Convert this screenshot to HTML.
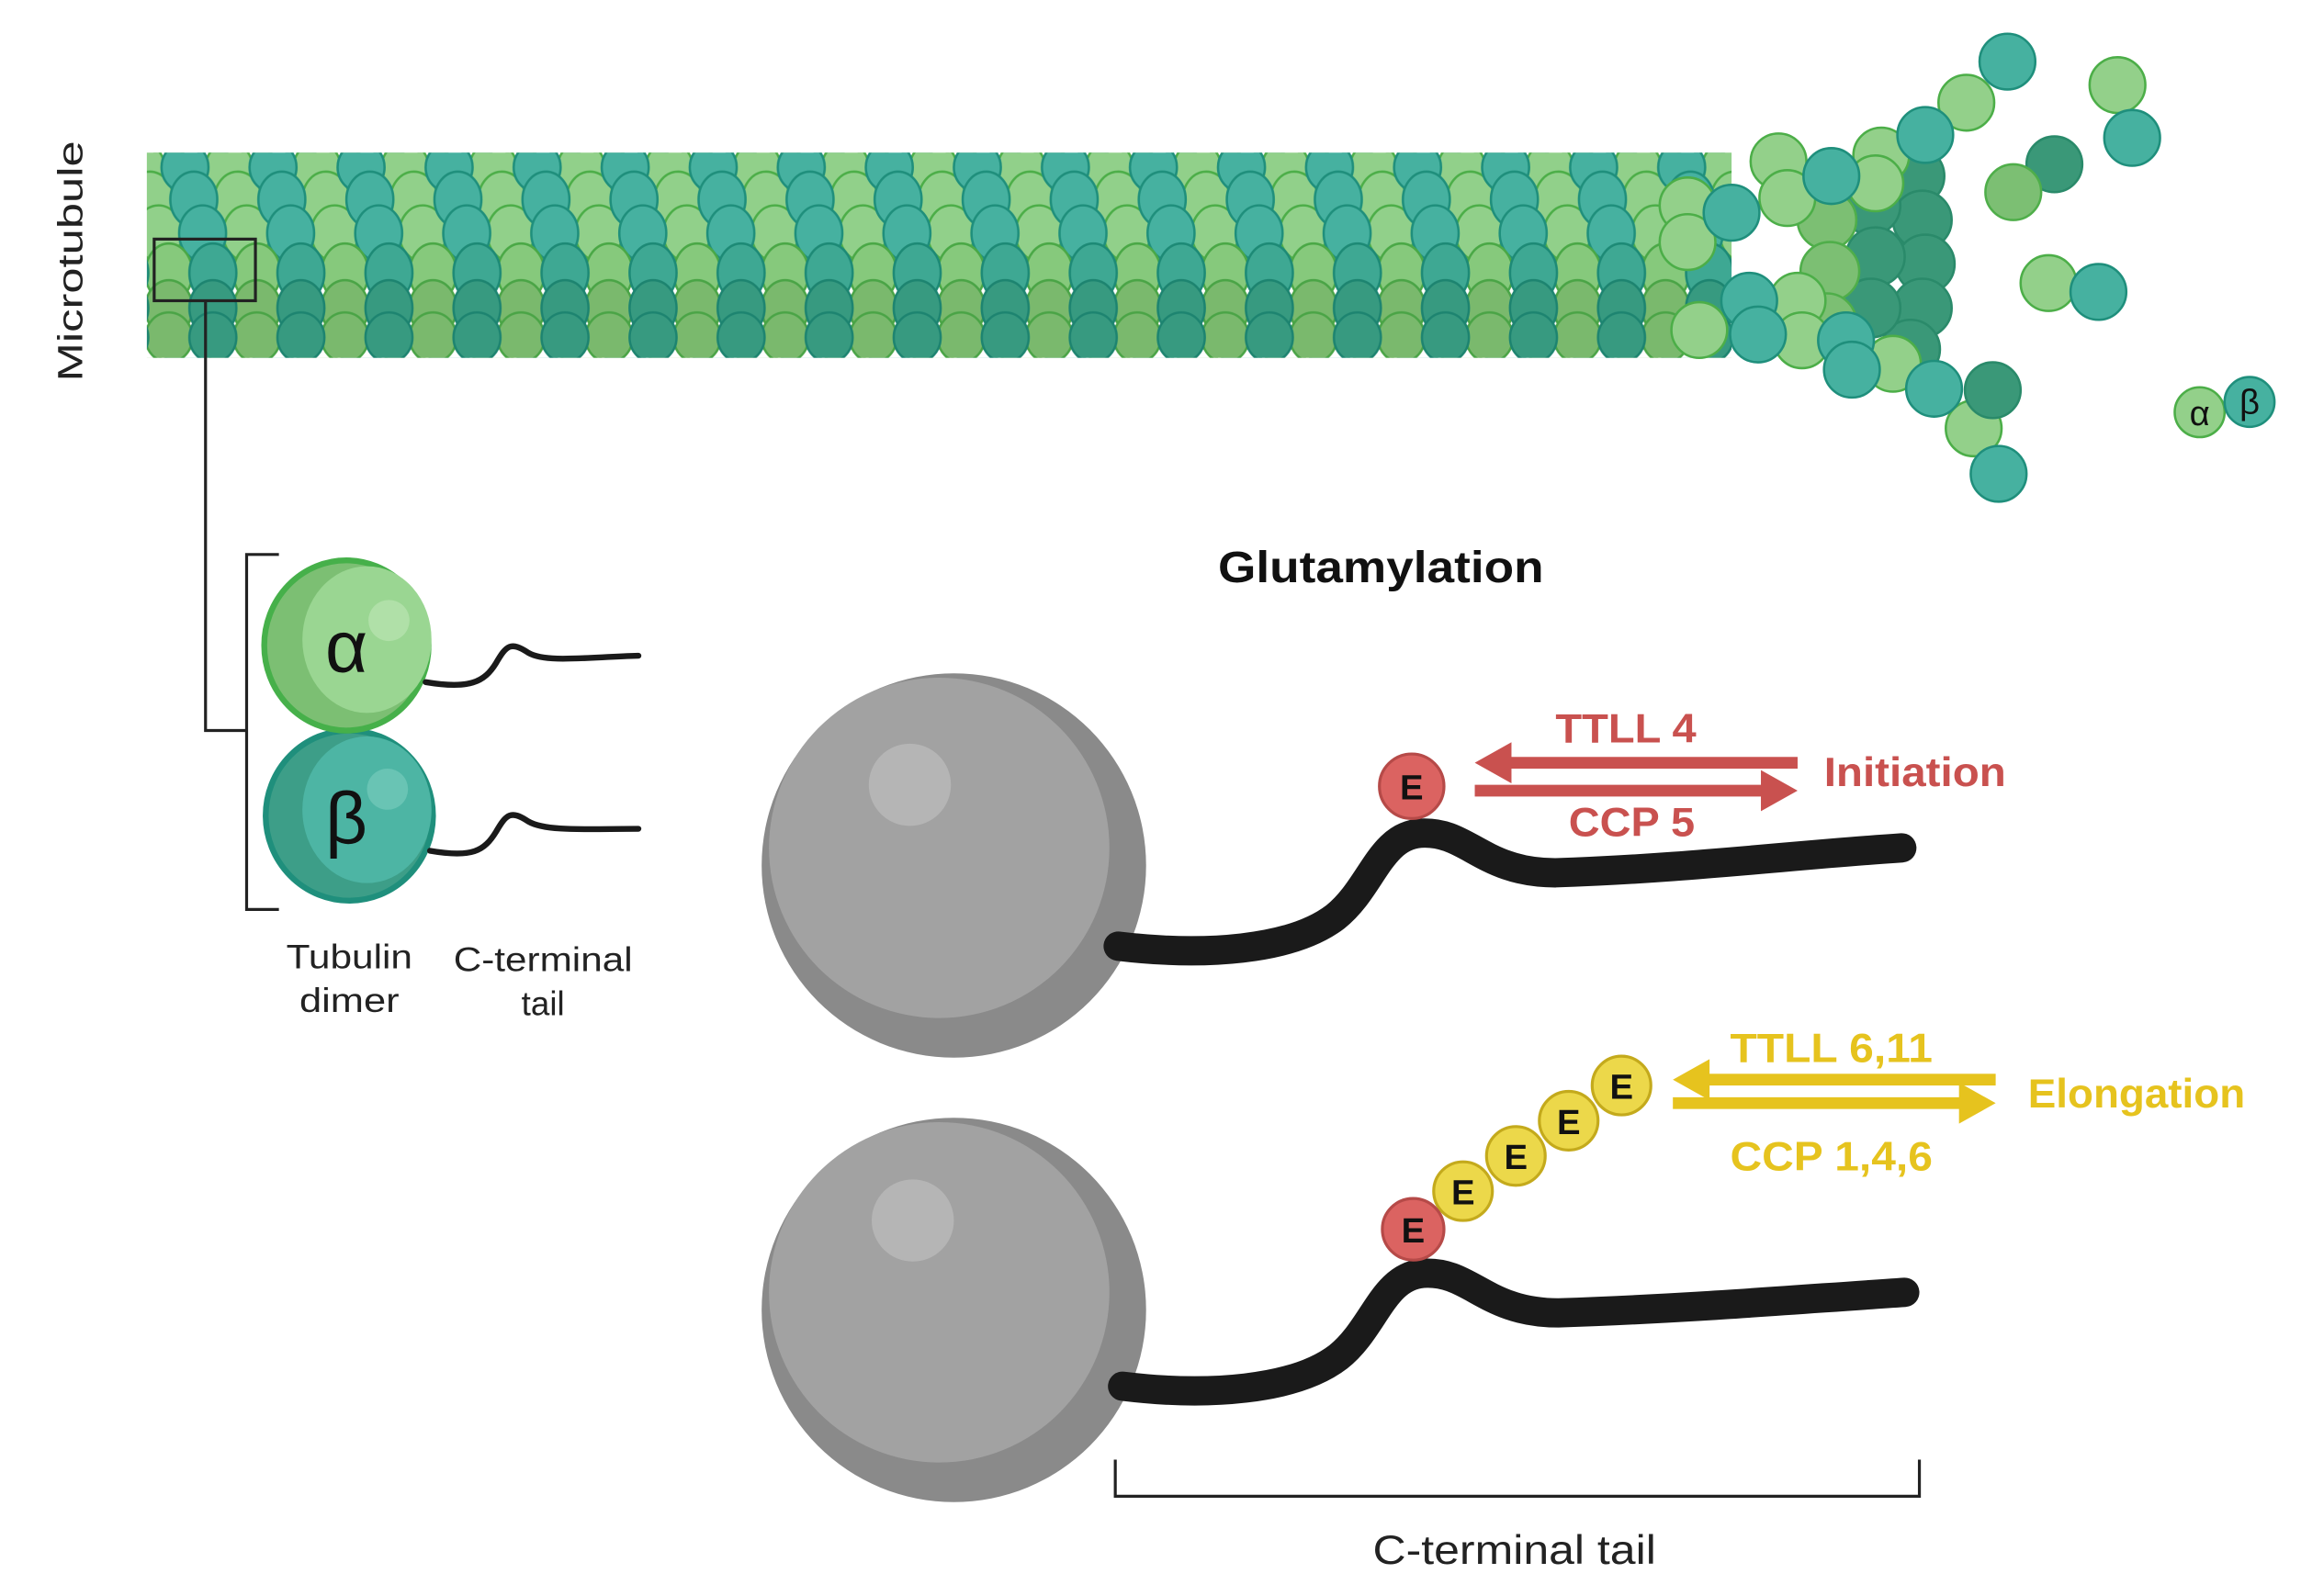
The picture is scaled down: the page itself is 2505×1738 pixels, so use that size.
<!DOCTYPE html>
<html><head><meta charset="utf-8"><style>
html,body{margin:0;padding:0;background:#fff;}
svg{display:block;}
text{font-family:"Liberation Sans",sans-serif;}
</style></head><body>
<svg width="2505" height="1738" viewBox="0 0 1568 1088" xmlns="http://www.w3.org/2000/svg">
<defs>
<pattern id="mt" patternUnits="userSpaceOnUse" x="100" y="104" width="60" height="140">
 <g stroke-width="1.6">
  <g fill="#91d08a" stroke="#4cae48">
   <ellipse cx="-4" cy="10" rx="16" ry="17"/><ellipse cx="56" cy="10" rx="16" ry="17"/>
   <ellipse cx="2" cy="32" rx="16" ry="19"/><ellipse cx="62" cy="32" rx="16" ry="19"/>
   <ellipse cx="8" cy="55" rx="16" ry="19"/><ellipse cx="68" cy="55" rx="16" ry="19"/>
  </g>
  <g fill="#46b1a0" stroke="#1f8f7c">
   <ellipse cx="26" cy="10" rx="16" ry="17"/>
   <ellipse cx="32" cy="32" rx="16" ry="19"/>
   <ellipse cx="38" cy="55" rx="16" ry="19"/>
  </g>
  <g fill="#86c97c" stroke="#4aa846">
   <ellipse cx="15" cy="82" rx="16" ry="20"/><ellipse cx="75" cy="82" rx="16" ry="20"/><ellipse cx="-45" cy="82" rx="16" ry="20"/>
  </g>
  <g fill="#3ea893" stroke="#1d8a76">
   <ellipse cx="45" cy="82" rx="16" ry="20"/><ellipse cx="-15" cy="82" rx="16" ry="20"/>
  </g>
  <g fill="#7ab96d" stroke="#4aa446">
   <ellipse cx="15" cy="106" rx="16" ry="19"/><ellipse cx="75" cy="106" rx="16" ry="19"/><ellipse cx="-45" cy="106" rx="16" ry="19"/>
   <ellipse cx="15" cy="126" rx="16" ry="17"/><ellipse cx="75" cy="126" rx="16" ry="17"/><ellipse cx="-45" cy="126" rx="16" ry="17"/>
  </g>
  <g fill="#379a80" stroke="#1d8470">
   <ellipse cx="45" cy="106" rx="16" ry="19"/><ellipse cx="-15" cy="106" rx="16" ry="19"/>
   <ellipse cx="45" cy="126" rx="16" ry="17"/><ellipse cx="-15" cy="126" rx="16" ry="17"/>
  </g>
 </g>
</pattern>
</defs>

<text x="0" y="0" transform="translate(56,178) rotate(-90)" font-size="24" text-anchor="middle" fill="#222" textLength="164" lengthAdjust="spacingAndGlyphs">Microtubule</text>

<rect x="100" y="104" width="1080" height="140" fill="url(#mt)"/>

<g stroke-width="1.6">
 <g fill="#3a9878" stroke="#2a8a6a">
  <circle cx="1305" cy="120" r="20"/><circle cx="1310" cy="150" r="20"/><circle cx="1312" cy="180" r="20"/><circle cx="1310" cy="210" r="20"/><circle cx="1302" cy="238" r="20"/>
  <circle cx="1275" cy="140" r="20"/><circle cx="1278" cy="175" r="20"/><circle cx="1275" cy="210" r="20"/>
 </g>
 <g fill="#7cbf73" stroke="#4fae4a">
  <circle cx="1245" cy="150" r="20"/><circle cx="1247" cy="185" r="20"/><circle cx="1245" cy="220" r="20"/>
 </g>
 <g fill="#93d08a" stroke="#4cae48">
  <circle cx="1150" cy="140" r="19"/><circle cx="1150" cy="165" r="19"/><circle cx="1158" cy="225" r="19"/>
  <circle cx="1212" cy="110" r="19"/><circle cx="1218" cy="135" r="19"/><circle cx="1225" cy="205" r="19"/><circle cx="1228" cy="232" r="19"/>
  <circle cx="1282" cy="106" r="19"/><circle cx="1278" cy="125" r="19"/><circle cx="1290" cy="248" r="19"/>
  <circle cx="1340" cy="70" r="19"/><circle cx="1345" cy="292" r="19"/>
 </g>
 <g fill="#46b1a0" stroke="#1f8f7c">
  <circle cx="1180" cy="145" r="19"/><circle cx="1192" cy="205" r="19"/><circle cx="1198" cy="228" r="19"/>
  <circle cx="1248" cy="120" r="19"/><circle cx="1258" cy="232" r="19"/><circle cx="1262" cy="252" r="19"/>
  <circle cx="1312" cy="92" r="19"/><circle cx="1318" cy="265" r="19"/>
  <circle cx="1368" cy="42" r="19"/><circle cx="1362" cy="323" r="19"/>
 </g>
 <circle cx="1358" cy="266" r="19" fill="#3a9878" stroke="#2a8a6a"/>
 <circle cx="1443" cy="58" r="19" fill="#93d08a" stroke="#4cae48"/>
 <circle cx="1453" cy="94" r="19" fill="#46b1a0" stroke="#1f8f7c"/>
 <circle cx="1400" cy="112" r="19" fill="#3a9878" stroke="#2a8a6a"/>
 <circle cx="1372" cy="131" r="19" fill="#7cbf73" stroke="#4fae4a"/>
 <circle cx="1396" cy="193" r="19" fill="#93d08a" stroke="#4cae48"/>
 <circle cx="1430" cy="199" r="19" fill="#46b1a0" stroke="#1f8f7c"/>
 <circle cx="1499" cy="281" r="17" fill="#93d08a" stroke="#4cae48"/>
 <circle cx="1533" cy="274" r="17" fill="#46b1a0" stroke="#1f8f7c"/>
</g>
<text x="1499" y="290" font-size="24" text-anchor="middle" fill="#111">α</text>
<text x="1533" y="282" font-size="24" text-anchor="middle" fill="#111">β</text>

<rect x="105" y="163" width="69" height="42" fill="none" stroke="#222" stroke-width="2"/>
<polyline points="140,205 140,498 168,498" fill="none" stroke="#222" stroke-width="2"/>
<polyline points="190,378 168,378 168,620 190,620" fill="none" stroke="#222" stroke-width="2"/>

<ellipse cx="238" cy="556" rx="57" ry="58" fill="#3d9e88" stroke="#1f8f7c" stroke-width="4"/>
<ellipse cx="250" cy="552" rx="44" ry="50" fill="#4db5a4"/>
<circle cx="264" cy="538" r="14" fill="#69c4b4"/>
<ellipse cx="236" cy="440" rx="56" ry="58" fill="#7cbf73" stroke="#46b04a" stroke-width="4"/>
<ellipse cx="250" cy="436" rx="44" ry="50" fill="#9ad692"/>
<circle cx="265" cy="423" r="14" fill="#b0e0a8"/>
<text x="236" y="458" font-size="50" text-anchor="middle" fill="#111">α</text>
<text x="236" y="575" font-size="50" text-anchor="middle" fill="#111">β</text>
<path d="M290,465 C320,470 330,465 338,452 C345,440 348,437 360,445 C372,452 400,448 435,447" fill="none" stroke="#1a1a1a" stroke-width="4" stroke-linecap="round"/>
<path d="M293,580 C322,585 330,580 338,567 C345,555 348,552 360,560 C372,567 400,565 435,565" fill="none" stroke="#1a1a1a" stroke-width="4" stroke-linecap="round"/>
<text x="238" y="660" font-size="23" text-anchor="middle" fill="#222" textLength="86" lengthAdjust="spacingAndGlyphs">Tubulin</text>
<text x="238" y="690" font-size="23" text-anchor="middle" fill="#222" textLength="68" lengthAdjust="spacingAndGlyphs">dimer</text>
<text x="370" y="662" font-size="23" text-anchor="middle" fill="#222" textLength="122" lengthAdjust="spacingAndGlyphs">C-terminal</text>
<text x="370" y="692" font-size="23" text-anchor="middle" fill="#222">tail</text>

<text x="941" y="397" font-size="30" font-weight="bold" text-anchor="middle" fill="#111" textLength="222" lengthAdjust="spacingAndGlyphs">Glutamylation</text>

<g>
 <circle cx="650" cy="590" r="131" fill="#8a8a8a"/>
 <circle cx="640" cy="578" r="116" fill="#a2a2a2"/>
 <circle cx="620" cy="535" r="28" fill="#b5b5b5"/>
 <circle cx="650" cy="893" r="131" fill="#8a8a8a"/>
 <circle cx="640" cy="881" r="116" fill="#a2a2a2"/>
 <circle cx="622" cy="832" r="28" fill="#b5b5b5"/>
</g>

<path d="M762,645 C820,652 880,648 910,625 C935,605 940,570 968,568 C1000,566 1010,595 1060,595 C1150,592 1220,583 1296,578" fill="none" stroke="#1a1a1a" stroke-width="20" stroke-linecap="round"/>
<path d="M765,945 C822,952 882,948 912,925 C937,905 942,870 970,868 C1002,866 1012,895 1062,895 C1152,892 1222,886 1298,881" fill="none" stroke="#1a1a1a" stroke-width="20" stroke-linecap="round"/>

<ellipse cx="962" cy="536" rx="22" ry="22" fill="#db6361" stroke="#b64a48" stroke-width="2"/>
<text x="962" y="545" font-size="24" font-weight="bold" text-anchor="middle" fill="#111">E</text>
<g fill="#c9514f">
 <rect x="1025" y="516" width="200" height="8"/>
 <polygon points="1005,520 1030,506 1030,534"/>
 <rect x="1005" y="535" width="200" height="8"/>
 <polygon points="1225,539 1200,525 1200,553"/>
</g>
<text x="1108" y="506" font-size="28" font-weight="bold" text-anchor="middle" fill="#c9514f" textLength="96" lengthAdjust="spacingAndGlyphs">TTLL 4</text>
<text x="1112" y="570" font-size="28" font-weight="bold" text-anchor="middle" fill="#c9514f" textLength="86" lengthAdjust="spacingAndGlyphs">CCP 5</text>
<text x="1243" y="536" font-size="28" font-weight="bold" fill="#c9514f" textLength="124" lengthAdjust="spacingAndGlyphs">Initiation</text>

<g stroke-width="2">
 <circle cx="1105" cy="740" r="20" fill="#ecd84a" stroke="#c4aa1c"/>
 <circle cx="1069" cy="764" r="20" fill="#ecd84a" stroke="#c4aa1c"/>
 <circle cx="1033" cy="788" r="20" fill="#ecd84a" stroke="#c4aa1c"/>
 <circle cx="997" cy="812" r="20" fill="#ecd84a" stroke="#c4aa1c"/>
 <circle cx="963" cy="838" r="21" fill="#db6361" stroke="#b64a48"/>
</g>
<g font-size="24" font-weight="bold" text-anchor="middle" fill="#111">
 <text x="1105" y="749">E</text><text x="1069" y="773">E</text><text x="1033" y="797">E</text><text x="997" y="821">E</text><text x="963" y="847">E</text>
</g>
<g fill="#e6c31e">
 <rect x="1160" y="732" width="200" height="8"/>
 <polygon points="1140,736 1165,722 1165,750"/>
 <rect x="1140" y="748" width="200" height="8"/>
 <polygon points="1360,752 1335,738 1335,766"/>
</g>
<text x="1248" y="724" font-size="28" font-weight="bold" text-anchor="middle" fill="#e6c31e" textLength="138" lengthAdjust="spacingAndGlyphs">TTLL 6,11</text>
<text x="1248" y="798" font-size="28" font-weight="bold" text-anchor="middle" fill="#e6c31e" textLength="138" lengthAdjust="spacingAndGlyphs">CCP 1,4,6</text>
<text x="1382" y="755" font-size="28" font-weight="bold" fill="#e6c31e" textLength="148" lengthAdjust="spacingAndGlyphs">Elongation</text>

<polyline points="760,995 760,1020 1308,1020 1308,995" fill="none" stroke="#222" stroke-width="2"/>
<text x="1032" y="1066" font-size="28" text-anchor="middle" fill="#222" textLength="193" lengthAdjust="spacingAndGlyphs">C-terminal tail</text>
</svg>
</body></html>
